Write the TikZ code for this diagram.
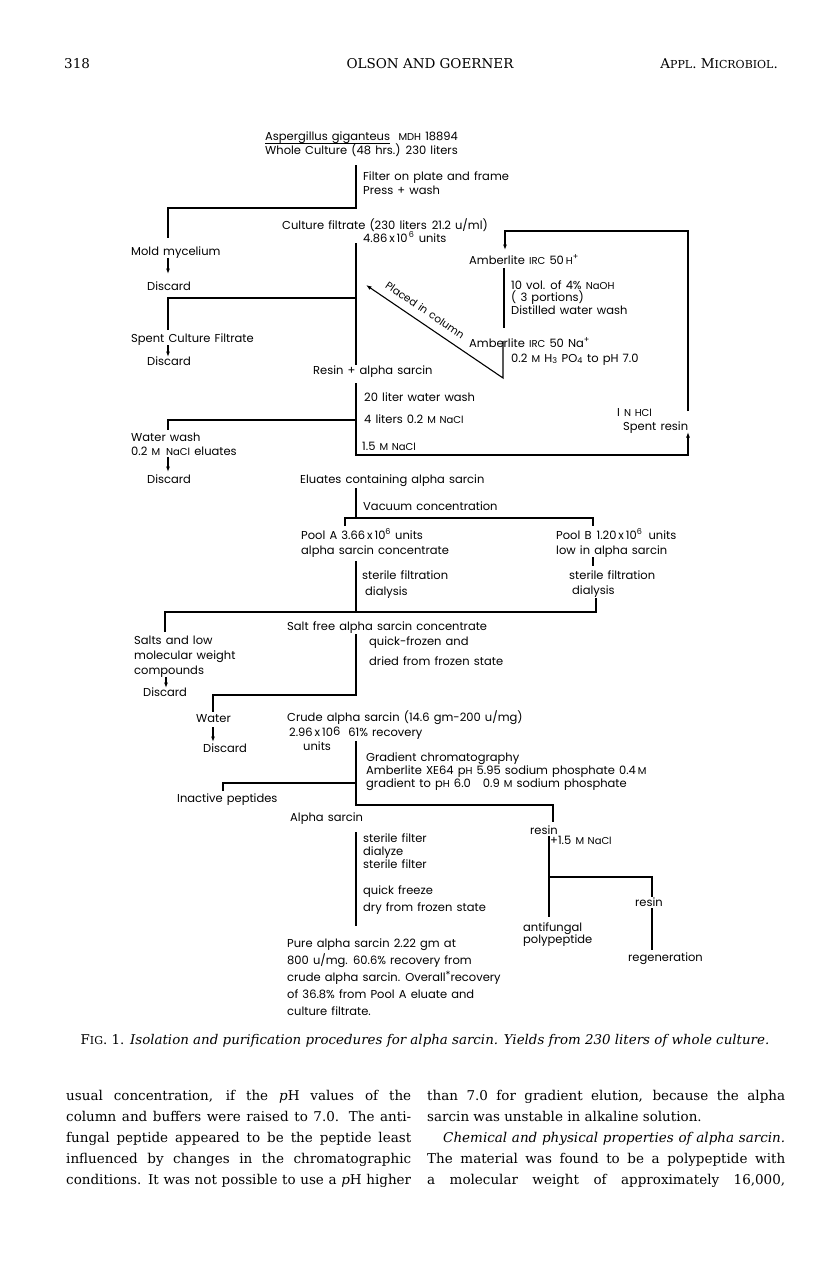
\documentclass[tikz,border=0pt]{standalone}
\usepackage{fontspec}
\newfontfamily\chartfont{Poppins}[WordSpace=1.35]
\newfontfamily\bodyfont{DejaVu Serif}
\usetikzlibrary{arrows.meta}
\newcommand{\smc}[1]{{\fontsize{10}{11}\selectfont #1}}
\newcommand{\capsm}[1]{{\fontsize{11}{12}\selectfont #1}}

\begin{document}
\begin{tikzpicture}[x=1pt,y=-1pt,
    every node/.style={inner sep=0pt},
    txt/.style={anchor=base west, font=\chartfont\fontsize{11.5}{13}\selectfont},
    page/.style={anchor=base west, font=\bodyfont\fontsize{13.5}{20}\selectfont},
    flow/.style={line width=1.1pt},
    arrow/.style={flow, -{Latex[length=5.5pt,width=4pt]}}
]
\useasboundingbox (0,0) rectangle (816,1286);
\fill[white] (0,0) rectangle (816,1286);

% page head
\node[page] (pgnum) at (64,68) {318};
\node[page, anchor=base] (authors) at (430,68) {OLSON AND GOERNER};
\node[page, anchor=base east] (journal) at (778,68) {A\capsm{PPL}. M\capsm{ICROBIOL}.};

% texts of the scheme
\node[txt] (asp) at (265,140) {Aspergillus giganteus};
\node[txt] (mdh) at ([xshift=8pt]asp.base east) {\smc{MDH} 18894};
\node[txt] (whole) at (265,154) {Whole Culture (48 hrs.) 230 liters};
\node[txt] (filter) at (363,180) {Filter on plate and frame};
\node[txt] (press) at (363,194) {Press + wash};
\node[txt] (culture) at (282,229) {Culture filtrate (230 liters\hspace{5pt}21.2\hspace{4pt}u/ml)};
\node[txt] (units1) at (363,242) {4.86\,x\,10\textsuperscript{\,6} units};
\node[txt] (mold) at (131,255) {Mold mycelium};
\node[txt] (discard1) at (147,290) {Discard};
\node[txt] (spent) at (131,342) {Spent Culture Filtrate};
\node[txt] (discard2) at (147,365) {Discard};
\node[txt] (resin) at (313,374) {Resin + alpha sarcin};
\node[txt] (amberh) at (469,264) {Amberlite \smc{IRC} 50\,\smc{H}\textsuperscript{+}};
\node[txt] (naoh) at (511,289) {10 vol. of 4\% \smc{NaOH}};
\node[txt] (portions) at (511,301) {( 3 portions)};
\node[txt] (distilled) at (511,314) {Distilled water wash};
\node[txt] (amberna) at (469,347) {Amberlite \smc{IRC} 50 Na\textsuperscript{+}};
\node[txt] (phos) at (511,362) {0.2 \smc{M} H\textsubscript{3} PO\textsubscript{4} to pH 7.0};
\node[txt] (hcl) at (617,416) {I \smc{N HCl}};
\node[txt] (spentresin) at (623,430) {Spent resin};
\node[txt] (wash20) at (364,401) {20 liter water wash};
\node[txt] (nacl02) at (364,423) {4 liters 0.2 \smc{M NaCl}};
\node[txt] (nacl15) at (362,450) {1.5 \smc{M NaCl}};
\node[txt] (waterwash) at (131,441) {Water wash};
\node[txt] (eluates1) at (131,455) {0.2 \smc{M}\hspace{6pt}\smc{NaCl} eluates};
\node[txt] (discard3) at (147,483) {Discard};
\node[txt] (eluates) at (300,483) {Eluates containing alpha sarcin};
\node[txt] (vacuum) at (363,510) {Vacuum concentration};
\node[txt] (poola) at (301,539) {Pool A 3.66\,x\,10\textsuperscript{6} units};
\node[txt] (poola2) at (301,554) {alpha sarcin concentrate};
\node[txt] (poolb) at (556,539) {Pool B\hspace{5pt}1.20\,x\,10\textsuperscript{6}\hspace{2pt} units};
\node[txt] (poolb2) at (556,554) {low in alpha sarcin};
\node[txt] (stera) at (362,579) {sterile filtration};
\node[txt] (diala) at (365,595) {dialysis};
\node[txt] (sterb) at (569,579) {sterile filtration};
\node[txt] (dialb) at (572,594) {dialysis};
\node[txt] (saltfree) at (287,630) {Salt free alpha sarcin concentrate};
\node[txt] (quick) at (369,645) {quick-frozen and};
\node[txt] (dried) at (369,665) {dried from frozen state};
\node[txt] (salts) at (134,644) {Salts and low};
\node[txt] (molw) at (134,659) {molecular weight};
\node[txt] (comp) at (134,674) {compounds};
\node[txt] (discard4) at (143,696) {Discard};
\node[txt] (water) at (196,722) {Water};
\node[txt] (discard5) at (203,752) {Discard};
\node[txt] (crude) at (287,721) {Crude alpha sarcin (14.6 gm-200 u/mg)};
\node[txt] (units2) at (289,736) {2.96\,x\,10\raisebox{1pt}{6}\hspace{8pt}61\% recovery};
\node[txt] (units3) at (303,750) {units};
\node[txt] (grad1) at (366,761) {Gradient chromatography};
\node[txt] (grad2) at (366,774) {Amberlite XE64 p\smc{H} 5.95 sodium phosphate 0.4\,\smc{M}};
\node[txt] (grad3) at (366,787) {gradient to p\smc{H} 6.0\hspace{12pt}0.9 \smc{M} sodium phosphate};
\node[txt] (inactive) at (177,802) {Inactive peptides};
\node[txt] (alpha) at (290,821) {Alpha sarcin};
\node[txt] (resin2) at (530,834) {resin};
\node[txt] (nacl2) at (550,844) {+1.5 \smc{M NaCl}};
\node[txt] (sterf1) at (363,842) {sterile filter};
\node[txt] (dialyze) at (363,855) {dialyze};
\node[txt] (sterf2) at (363,868) {sterile filter};
\node[txt] (quickf) at (363,894) {quick freeze};
\node[txt] (dryf) at (363,911) {dry from frozen state};
\node[txt] (antif) at (523,931) {antifungal};
\node[txt] (polyp) at (523,943) {polypeptide};
\node[txt] (resin3) at (635,906) {resin};
\node[txt] (regen) at (628,961) {regeneration};
\node[txt] (pure1) at (287,947) {Pure alpha sarcin 2.22 gm at};
\node[txt] (pure2) at (287,964) {800 u/mg. 60.6\% recovery from};
\node[txt] (pure3) at (287,981) {crude alpha sarcin. Overall\raisebox{3pt}{\smc{*}}recovery};
\node[txt] (pure4) at (287,998) {of 36.8\% from Pool A eluate and};
\node[txt] (pure5) at (287,1015) {culture filtrate.};

% corner points of the lines
\coordinate (top0) at (356,165);
\coordinate (split1) at (356,208);
\coordinate (moldin) at (168,238);
\coordinate (trunk1) at (356,243);
\coordinate (split2) at (356,298);
\coordinate (spentin) at (168,330);
\coordinate (trunk1b) at (356,365);
\coordinate (vtop) at (503,341);
\coordinate (vbot) at (503,378);
\coordinate (tip) at (366,285);
\coordinate (hcltop) at (688,411);
\coordinate (loopl) at (505,231);
\coordinate (amberin) at (505,250);
\coordinate (amberout) at (504,268);
\coordinate (amberbot) at (504,328);
\coordinate (resinout) at (356,383);
\coordinate (loopbr) at (688,455);
\coordinate (spentrin) at (688,432);
\coordinate (split3) at (356,420);
\coordinate (washin) at (168,430);
\coordinate (elutout) at (356,488);
\coordinate (elutjoin) at (356,518);
\coordinate (vaca) at (345,518);
\coordinate (vacb) at (593,518);
\coordinate (poolain) at (345,526);
\coordinate (poolbin) at (593,526);
\coordinate (poolaout) at (356,561);
\coordinate (poolajoin) at (356,612);
\coordinate (poolbout) at (593,557);
\coordinate (poolbmid) at (593,566);
\coordinate (dialbl) at (596,598);
\coordinate (dialbbot) at (596,612);
\coordinate (saltsin) at (165,632);
\coordinate (saltout) at (356,634);
\coordinate (split4) at (356,695);
\coordinate (waterin) at (213,712);
\coordinate (crudeout) at (356,741);
\coordinate (split5) at (356,783);
\coordinate (inactin) at (223,791);
\coordinate (split6) at (356,805);
\coordinate (resinin) at (553,822);
\coordinate (alphaout) at (356,832);
\coordinate (alphabot) at (356,926);
\coordinate (resin2out) at (549,836);
\coordinate (split7) at (549,877);
\coordinate (antifin) at (549,917);
\coordinate (resin3in) at (652,897);
\coordinate (resin3out) at (652,908);
\coordinate (regenin) at (652,950);

% lines
\draw[flow] (top0) -- (split1) -| (moldin);
\draw[flow] (trunk1) -- (trunk1b);
\draw[flow] (split2) -| (spentin);
\draw[arrow] (vtop) -- (vbot) -- node[sloped, above=8pt, pos=0.62, font=\chartfont\fontsize{10.5}{12}\selectfont] {Placed in column} (tip);
\draw[arrow] (hcltop) |- (loopl) -- (amberin);
\draw[flow] (amberout) -- (amberbot);
\draw[arrow] (resinout) |- (loopbr) -- (spentrin);
\draw[flow] (split3) -| (washin);
\draw[flow] (elutout) -- (elutjoin);
\draw[flow] (poolain) -- (vaca) -- (vacb) -- (poolbin);
\draw[flow] (poolaout) -- (poolajoin);
\draw[flow] (poolbout) -- (poolbmid);
\draw[flow] (saltsin) |- (dialbbot) -- (dialbl);
\draw[flow] (saltout) -- (split4) -| (waterin);
\draw[flow] (crudeout) -- (split6) -| (resinin);
\draw[flow] (split5) -| (inactin);
\draw[flow] (alphaout) -- (alphabot);
\draw[flow] (resin2out) -- (antifin);
\draw[flow] (split7) -| (resin3in);
\draw[flow] (resin3out) -- (regenin);
\draw[line width=0.8pt] ([yshift=-3pt]asp.base west) -- ([yshift=-3pt]asp.base east);

% discard arrows
\coordinate (m1) at (168,258); \coordinate (d1) at (168,274);
\coordinate (m2) at (168,345); \coordinate (d2) at (168,357);
\coordinate (m3) at (168,457); \coordinate (d3) at (168,472);
\coordinate (m4) at (166,677); \coordinate (d4) at (166,688);
\coordinate (m5) at (213,727); \coordinate (d5) at (213,742);
\foreach \a/\b in {m1/d1,m2/d2,m3/d3,m4/d4,m5/d5}
    \draw[arrow] (\a) -- (\b);

% caption
\node[page, anchor=base, font=\bodyfont\fontsize{13.4}{15}\selectfont] (caption) at (425,1044) {F\capsm{IG}. 1. \textit{Isolation and purification procedures for alpha sarcin. Yields from 230 liters of whole culture.}};

% body text, left column
\node[page] (l1) at (66,1100) {\makebox[345pt][s]{usual concentration, if the \textit{p}H values of the}};
\node[page] (l2) at (66,1121) {\makebox[345pt][s]{column and buffers were raised to 7.0. The anti-}};
\node[page] (l3) at (66,1142) {\makebox[345pt][s]{fungal peptide appeared to be the peptide least}};
\node[page] (l4) at (66,1163) {\makebox[345pt][s]{influenced by changes in the chromatographic}};
\node[page] (l5) at (66,1184) {\makebox[345pt][s]{conditions. It was not possible to use a \textit{p}H higher}};
% body text, right column
\node[page] (r1) at (427,1100) {\makebox[358pt][s]{than 7.0 for gradient elution, because the alpha}};
\node[page] (r2) at (427,1121) {sarcin was unstable in alkaline solution.};
\node[page] (r3) at (443,1142) {\makebox[342pt][s]{\textit{Chemical and physical properties of alpha sarcin.}}};
\node[page] (r4) at (427,1163) {\makebox[358pt][s]{The material was found to be a polypeptide with}};
\node[page] (r5) at (427,1184) {\makebox[358pt][s]{a molecular weight of approximately 16,000,}};
\end{tikzpicture}
\end{document}
